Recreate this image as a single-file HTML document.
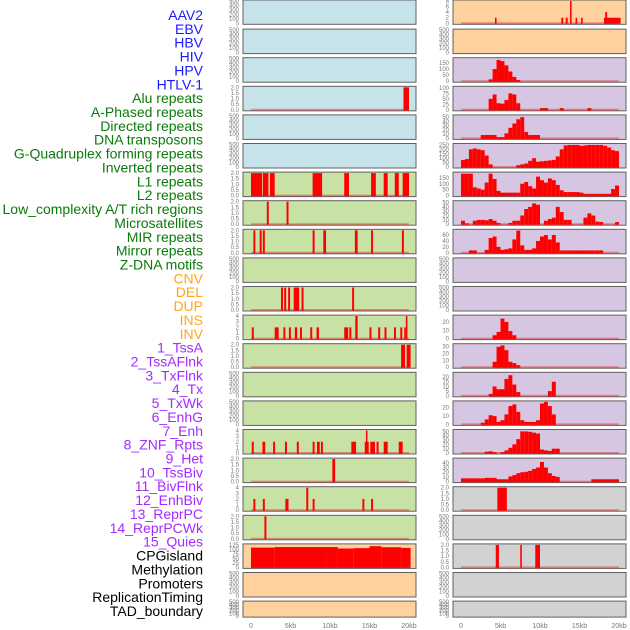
<!DOCTYPE html>
<html><head><meta charset="utf-8">
<style>
html,body{margin:0;padding:0;background:#fff;}
svg{display:block;font-family:"Liberation Sans",sans-serif;}
</style></head>
<body>
<svg id="chart" width="630" height="630" viewBox="0 0 630 630"></svg>
<script>
// ---------- data ----------
const labelNames = ["AAV2","EBV","HBV","HIV","HPV","HTLV-1","Alu repeats","A-Phased repeats","Directed repeats","DNA transposons","G-Quadruplex forming repeats","Inverted repeats","L1 repeats","L2 repeats","Low_complexity A/T rich regions","Microsatellites","MIR repeats","Mirror repeats","Z-DNA motifs","CNV","DEL","DUP","INS","INV","1_TssA","2_TssAFlnk","3_TxFlnk","4_Tx","5_TxWk","6_EnhG","7_Enh","8_ZNF_Rpts","9_Het","10_TssBiv","11_BivFlnk","12_EnhBiv","13_ReprPC","14_ReprPCWk","15_Quies","CPGisland","Methylation","Promoters","ReplicationTiming","TAD_boundary"];
const labelGroups = [6,13,5,15,5];
const groupColors = ["#1a1aff","#0a7a0a","#ffa61a","#a52aff","#000000"];
const xTickValues = [0,5,10,15,20];
const xTickLabels = ["0","5kb","10kb","15kb","20kb"];

// left column interval data [startKb, endKb, value]
const L3 = [[19.3,20,2]];
const L6 = [[0,1.4,2],[1.5,2.2,2],[2.4,3.0,2],[7.8,9.0,2],[11.8,12.4,2],[15.2,15.8,2],[16.8,17.3,2],[18.2,18.7,2],[19.2,20,2]];
const L7 = [[2.0,2.25,2],[4.5,4.75,2]];
const L8 = [[0.3,0.55,2],[1.1,1.35,2],[1.5,1.75,2],[7.8,8.05,2],[9.15,9.5,2],[13.15,13.5,2],[15.2,15.45,2],[19.1,19.35,2]];
const L10 = [[3.8,4.05,2],[4.2,4.45,2],[4.7,4.95,2],[5.4,6.1,2],[6.4,6.65,2],[12.8,13.05,2]];
const L11 = [[0.1,0.35,2],[3.0,3.5,2],[4.1,4.35,2],[4.8,5.05,2],[5.55,5.85,2],[6.2,6.45,2],[7.5,7.75,2],[8.3,8.6,2],[11.8,12.3,2],[12.45,12.7,2],[15.0,15.25,2],[16.1,16.35,2],[16.9,17.15,2],[18.1,18.35,2],[18.9,19.15,2],[19.4,19.6,2],[13.2,13.5,4],[19.6,19.8,4]];
const L12 = [[19.0,19.5,2],[19.7,20.2,2]];
const L15 = [[0.1,0.35,2],[1.45,1.8,2],[2.8,3.05,2],[4.3,4.55,2],[5.8,6.05,2],[7.8,8.05,2],[8.35,8.7,2],[8.85,9.1,2],[12.7,13.3,2],[14.4,14.9,2],[14.55,14.7,4],[15.1,15.7,2],[15.9,16.15,2],[16.8,17.3,2],[18.7,19.2,2]];
const L16 = [[10.3,10.65,2]];
const L17 = [[0.3,0.55,2],[1.5,1.75,2],[4.35,4.75,2],[7.0,7.25,4],[7.8,8.05,2],[14.1,14.35,2],[15.2,15.45,2]];
const L18 = [[1.7,1.95,2]];
const L19 = [[0,3,110],[3,9.5,113],[9.5,11,113],[11,13,105],[13,15,107],[15,16.5,118],[16.5,19,112],[19,20.2,108]];

// right column: intervals or 0.5kb bins
const R0 = [[4.3,4.5,2],[12.7,12.95,2],[13.25,13.5,2],[13.8,14.0,8],[14.5,14.7,2],[15.2,15.4,2],[18.1,20.2,2],[18.25,18.5,4]];
const R2 = [0,0,0,0,0,0,0,15,100,175,165,130,80,35,10,0,0,0,0,0,0,0,0,0,0,0,0,0,0,0,0,0,0,0,0,0,0,0,0,0];
const R3 = [0,0,0,0,0,0,0,50,70,30,28,45,75,70,30,0,0,0,0,0,8,8,0,0,0,8,0,0,0,0,0,0,8,0,0,0,0,0,0,0];
const R4 = [0,0,0,0,0,8,8,8,8,3,3,12,25,35,45,50,15,8,8,8,0,0,0,0,0,0,0,0,0,0,0,0,0,0,0,0,0,0,0,0];
const R5 = [80,90,200,210,200,190,130,30,0,0,0,0,0,0,20,30,40,70,100,60,65,70,75,80,120,200,245,250,250,250,240,245,250,250,250,250,240,220,190,180];
const R6 = [185,185,185,70,60,50,110,185,140,40,25,25,25,25,25,100,115,80,60,160,130,110,145,130,90,45,30,30,30,30,25,15,15,15,15,15,15,15,55,85];
const R7 = [8,2,0,8,10,10,9,12,8,3,0,0,3,8,8,20,35,40,48,45,0,8,12,15,40,28,10,10,0,0,0,15,25,20,6,5,0,0,0,5];
const R8 = [0,0,8,8,0,0,10,50,55,20,10,12,15,45,75,25,10,10,15,40,55,60,45,60,35,8,8,8,8,8,8,8,8,8,8,8,0,0,0,0];
const R11 = [0,0,0,0,0,0,0,0,4,8,24,20,9,4,0,0,0,0,0,0,0,0,0,0,0,0,0,0,0,0,0,0,0,0,0,0,0,0,0,0];
const R12 = [0,0,0,0,0,0,0,0,8,30,32,25,8,6,3,0,0,0,0,0,0,0,0,0,0,0,0,0,0,0,0,0,0,0,0,0,0,0,0,0];
const R13 = [0,0,0,0,0,0,0,2,10,7,7,18,22,12,4,0,0,0,0,0,0,0,5,15,0,0,0,0,0,0,0,0,0,0,0,0,0,0,0,0];
const R14 = [0,0,0,0,0,2,6,11,10,3,5,12,22,24,15,5,3,3,3,5,25,27,22,12,0,0,0,0,0,0,0,0,0,0,0,0,0,0,0,0];
const R15 = [0,0,0,0,0,0,3,4,2,0,2,6,12,20,32,50,50,49,47,45,8,6,5,10,10,0,0,0,0,0,0,0,0,0,0,0,0,0,0,0];
const R16 = [7,7,7,7,7,7,8,8,8,5,5,5,11,14,18,20,21,23,27,30,42,30,18,12,10,0,0,0,0,0,0,0,0,5,5,5,5,5,5,5];
const R17 = [[4.6,5.8,2]];
const R19 = [[4.4,4.8,2],[7.5,7.7,2],[9.4,10.0,2]];

// tick sets
const ticksEmpty = [0,100,200,300,400,500];
const ticks2 = [0,0.5,1,1.5,2];
const ticks4 = [0,1,2,3,4];

// ---------- layout helpers ----------
const svg = document.getElementById('chart');
const NS = 'http://www.w3.org/2000/svg';
function mk(tag, attrs, parent){const e=document.createElementNS(NS,tag);for(const k in attrs)e.setAttribute(k,attrs[k]);(parent||svg).appendChild(e);return e;}
function rowTop(i){return i===0?0:0.5+28.6*i;}
function rowH(i){return i===21?16:(i===0?24.3:24.5);}
const cols=[{left:243,right:416,x0:251,x1:409,tickX:239},{left:453,right:626,x0:461,x1:619,tickX:449}];
function xScale(c,kb){return cols[c].x0+(kb/20)*(cols[c].x1-cols[c].x0);}
function yScale(i,v,ymax){const t=rowTop(i)+1,b=rowTop(i)+rowH(i)-1;return b-(v/ymax)*(b-t);}

const BLUE='#c7e3ea',ORANGE='#ffd19f',PURPLE='#d7c6e2',GREEN='#c8e1a5',GREY='#d2d2d2';
const leftBg=[BLUE,BLUE,BLUE,BLUE,BLUE,BLUE,GREEN,GREEN,GREEN,GREEN,GREEN,GREEN,GREEN,GREEN,GREEN,GREEN,GREEN,GREEN,GREEN,ORANGE,ORANGE,ORANGE];
const rightBg=[ORANGE,ORANGE,PURPLE,PURPLE,PURPLE,PURPLE,PURPLE,PURPLE,PURPLE,PURPLE,PURPLE,PURPLE,PURPLE,PURPLE,PURPLE,PURPLE,PURPLE,GREY,GREY,GREY,GREY,GREY];

// panel specs: [data, kind, ymax, ticks, decimals]
const leftSpec={3:[L3,'iv',2,ticks2,1],6:[L6,'iv',2,ticks2,1],7:[L7,'iv',2,ticks2,1],8:[L8,'iv',2,ticks2,1],10:[L10,'iv',2,ticks2,1],11:[L11,'iv',4,ticks4,0],12:[L12,'iv',2,ticks2,1],15:[L15,'iv',4,ticks4,0],16:[L16,'iv',2,ticks2,1],17:[L17,'iv',4,ticks4,0],18:[L18,'iv',2,ticks2,1],19:[L19,'iv',125,[0,25,50,75,100,125],0]};
const rightSpec={0:[R0,'iv',8,[0,2,4,6,8],0],2:[R2,'bin',185,[0,50,100,150],0],3:[R3,'bin',103,[0,25,50,75,100],0],4:[R4,'bin',53,[0,10,20,30,40,50],0],5:[R5,'bin',255,[0,50,100,150,200,250],0],6:[R6,'bin',190,[0,50,100,150],0],7:[R7,'bin',52,[0,10,20,30,40,50],0],8:[R8,'bin',76,[0,20,40,60],0],11:[R11,'bin',27,[0,10,20],0],12:[R12,'bin',33,[0,10,20,30],0],13:[R13,'bin',24,[0,5,10,15,20],0],14:[R14,'bin',27,[0,10,20],0],15:[R15,'bin',52,[0,10,20,30,40,50],0],16:[R16,'bin',48,[0,10,20,30,40],0],17:[R17,'iv',2,ticks2,1],19:[R19,'iv',2,ticks2,1]};

// ---------- labels ----------
let k=0;
labelGroups.forEach((n,g)=>{for(let j=0;j<n;j++){
  const t=mk('text',{x:203,y:15+13.86*k+5,'text-anchor':'end','font-size':'14',fill:groupColors[g]});
  t.textContent=labelNames[k];
  
  
  k++;}});

// ---------- panels ----------
function drawPanel(c,i,bg,spec){
  const g=mk('g',{});
  
  
  const top=rowTop(i),h=rowH(i);
  const r=mk('rect',{x:cols[c].left,y:top,width:cols[c].right-cols[c].left,height:h,fill:bg,stroke:'#606060','stroke-width':1},g);
  
  
  const ymax=spec?spec[2]:500, ticks=spec?spec[3]:ticksEmpty, dec=spec?spec[4]:0;
  ticks.forEach(tv=>{
    const t=mk('text',{x:cols[c].tickX,y:yScale(i,tv,ymax)+2,'text-anchor':'end','font-size':'6',fill:'#777'},g);
    t.textContent=tv.toFixed(dec);
    
    
  });
  if(!spec)return;
  const base=mk('line',{x1:xScale(c,0),x2:xScale(c,20),y1:yScale(i,0,ymax),y2:yScale(i,0,ymax),stroke:'rgba(220,40,40,0.45)','stroke-width':2},g);
  
  
  const data=spec[0];
  const marks=[];
  if(spec[1]==='iv'){data.forEach(d=>marks.push([d[0],d[1],d[2]]));}
  else{data.forEach((v,b)=>{if(v>0)marks.push([b*0.5,b*0.5+0.5,v]);});}
  marks.forEach(m=>{
    const x1=xScale(c,m[0]),x2=xScale(c,m[1]),y=yScale(i,m[2],ymax),y0=yScale(i,0,ymax)+0.5;
    const b=mk('rect',{x:x1,y:y,width:Math.max(1.5,x2-x1),height:y0-y,fill:'#ff0000'},g);
    
    
  });
}
for(let i=0;i<22;i++){drawPanel(0,i,leftBg[i],leftSpec[i]);drawPanel(1,i,rightBg[i],rightSpec[i]);}

// ---------- x axes ----------
[0,1].forEach(c=>{xTickValues.forEach((v,j)=>{
  const t=mk('text',{x:xScale(c,v),y:628,'text-anchor':'middle','font-size':'7',fill:'#777'});
  t.textContent=xTickLabels[j];
  
  
});});
</script>
</body></html>
